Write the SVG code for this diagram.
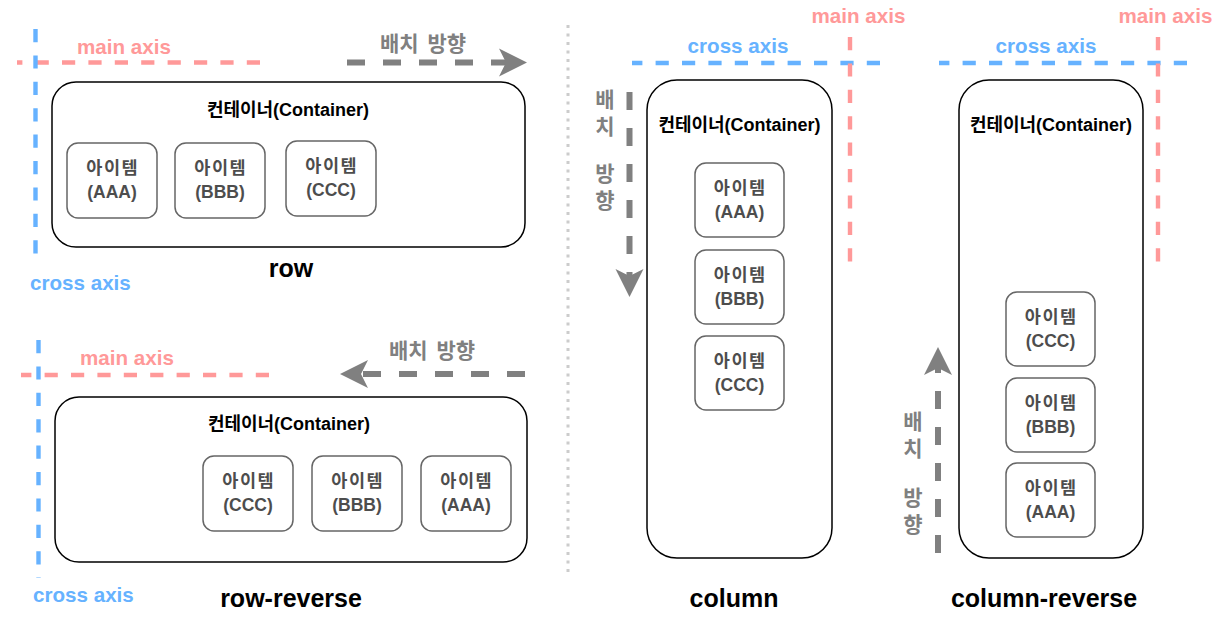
<svg xmlns="http://www.w3.org/2000/svg" width="1219" height="624" viewBox="0 0 1219 624">
<style>
text{font-family:"Liberation Sans","Noto Sans CJK KR",Arial,sans-serif;font-weight:bold}
.ax{font-size:20.6px}
.main{fill:#FF9999}
.cross{fill:#66B2FF}
.dir{fill:#808080;font-size:21px}
.title{font-size:25px;fill:#000;text-anchor:middle}
.clabel{font-size:18px;fill:#000;text-anchor:middle}
.ilabel{font-size:17.5px;fill:#4D4D4D;text-anchor:middle}
.ko{letter-spacing:1.5px}
.cont{fill:#fff;stroke:#000;stroke-width:1.5}
.item{fill:#fff;stroke:#666;stroke-width:1.5}
.pink{stroke:#FF9999;stroke-width:4.4;stroke-dasharray:13.2 13.2;fill:none}
.blue{stroke:#66B2FF;stroke-width:4.4;stroke-dasharray:13.2 13.2;fill:none}
.flow{stroke:#808080;stroke-width:6;stroke-dasharray:18 18;fill:none;marker-end:url(#head)}
.sep{stroke:#CCCCCC;stroke-width:3;stroke-dasharray:3 5.5;fill:none}
</style>
<defs>
<marker id="head" markerUnits="userSpaceOnUse" markerWidth="30" markerHeight="30" refX="7" refY="14" orient="auto" overflow="visible">
<path d="M0,0 L28,14 L0,28 L7,14 Z" fill="#808080"/>
</marker>
</defs>

<!-- separator -->
<line class="sep" x1="568" y1="25" x2="568" y2="576"/>

<!-- axes -->
<g id="axes">
<line class="pink" x1="260" y1="62.5" x2="17" y2="62.5"/>
<line class="blue" x1="35.5" y1="29" x2="35.5" y2="258"/>
<line class="pink" x1="269" y1="375" x2="21" y2="375"/>
<line class="blue" x1="38.5" y1="340" x2="38.5" y2="578"/>
<line class="blue" x1="880" y1="63" x2="632" y2="63"/>
<line class="pink" x1="850" y1="37" x2="850" y2="265"/>
<line class="blue" x1="1187" y1="63" x2="939" y2="63"/>
<line class="pink" x1="1158" y1="37" x2="1158" y2="265"/>
</g>

<!-- axis labels -->
<g id="axis-labels">
<text class="ax main" x="77" y="54">main axis</text>
<text class="ax cross" x="30" y="290">cross axis</text>
<text class="ax main" x="80" y="365">main axis</text>
<text class="ax cross" x="33" y="602">cross axis</text>
<text class="ax cross" x="738" y="53" text-anchor="middle">cross axis</text>
<text class="ax main" x="858.5" y="23" text-anchor="middle">main axis</text>
<text class="ax cross" x="1046" y="53" text-anchor="middle">cross axis</text>
<text class="ax main" x="1165.5" y="23" text-anchor="middle">main axis</text>
</g>

<!-- connectors (direction arrows) -->
<g id="connectors">
<line class="flow" x1="347" y1="62.5" x2="506" y2="62.5"/>
<line class="flow" x1="525" y1="374" x2="361" y2="374"/>
<line class="flow" x1="629.5" y1="92" x2="629.5" y2="276"/>
<line class="flow" x1="938" y1="553" x2="938" y2="368"/>
</g>

<g id="direction-labels">
<text class="dir" x="423" y="51" text-anchor="middle" word-spacing="3">배치 방향</text>
<text class="dir" x="432" y="358" text-anchor="middle" word-spacing="3">배치 방향</text>
<text class="dir" x="605" y="107" text-anchor="middle">배</text>
<text class="dir" x="605" y="134" text-anchor="middle">치</text>
<text class="dir" x="605" y="181" text-anchor="middle">방</text>
<text class="dir" x="605" y="208" text-anchor="middle">향</text>
<text class="dir" x="913" y="429" text-anchor="middle">배</text>
<text class="dir" x="913" y="456" text-anchor="middle">치</text>
<text class="dir" x="913" y="505" text-anchor="middle">방</text>
<text class="dir" x="913" y="532" text-anchor="middle">향</text>
</g>

<!-- row -->
<g id="row-container">
<rect class="cont" x="52" y="82" width="473" height="165" rx="24"/>
<text class="clabel" x="288" y="116">컨테이너(Container)</text>
</g>
<g id="row-item-aaa">
<rect class="item" x="67" y="143" width="90" height="75" rx="11"/>
<text class="ilabel ko" x="112.75" y="174">아이템</text>
<text class="ilabel" x="112" y="198">(AAA)</text>
</g>
<g id="row-item-bbb">
<rect class="item" x="175" y="143" width="90" height="75" rx="11"/>
<text class="ilabel ko" x="220.75" y="174">아이템</text>
<text class="ilabel" x="220" y="198">(BBB)</text>
</g>
<g id="row-item-ccc">
<rect class="item" x="286" y="141" width="90" height="75" rx="11"/>
<text class="ilabel ko" x="331.75" y="172">아이템</text>
<text class="ilabel" x="331" y="196">(CCC)</text>
</g>
<text class="title" x="291" y="277">row</text>

<!-- row-reverse -->
<g id="row-reverse-container">
<rect class="cont" x="55" y="397" width="472" height="165" rx="24"/>
<text class="clabel" x="289" y="430">컨테이너(Container)</text>
</g>
<g id="rr-item-ccc">
<rect class="item" x="203" y="456" width="90" height="75" rx="11"/>
<text class="ilabel ko" x="248.75" y="487">아이템</text>
<text class="ilabel" x="248" y="511">(CCC)</text>
</g>
<g id="rr-item-bbb">
<rect class="item" x="312" y="456" width="90" height="75" rx="11"/>
<text class="ilabel ko" x="357.75" y="487">아이템</text>
<text class="ilabel" x="357" y="511">(BBB)</text>
</g>
<g id="rr-item-aaa">
<rect class="item" x="421" y="456" width="90" height="75" rx="11"/>
<text class="ilabel ko" x="466.75" y="487">아이템</text>
<text class="ilabel" x="466" y="511">(AAA)</text>
</g>
<text class="title" x="291" y="607">row-reverse</text>

<!-- column -->
<g id="column-container">
<rect class="cont" x="647" y="80" width="185" height="478" rx="30"/>
<text class="clabel" x="739.5" y="131">컨테이너(Container)</text>
</g>
<g id="col-item-aaa">
<rect class="item" x="695" y="163" width="89" height="74" rx="11"/>
<text class="ilabel ko" x="740.25" y="193.5">아이템</text>
<text class="ilabel" x="739.5" y="217.5">(AAA)</text>
</g>
<g id="col-item-bbb">
<rect class="item" x="695" y="250" width="89" height="74" rx="11"/>
<text class="ilabel ko" x="740.25" y="280.5">아이템</text>
<text class="ilabel" x="739.5" y="304.5">(BBB)</text>
</g>
<g id="col-item-ccc">
<rect class="item" x="695" y="336" width="89" height="74" rx="11"/>
<text class="ilabel ko" x="740.25" y="366.5">아이템</text>
<text class="ilabel" x="739.5" y="390.5">(CCC)</text>
</g>
<text class="title" x="734" y="607">column</text>

<!-- column-reverse -->
<g id="column-reverse-container">
<rect class="cont" x="959" y="80" width="184" height="478" rx="30"/>
<text class="clabel" x="1051" y="131">컨테이너(Container)</text>
</g>
<g id="cr-item-ccc">
<rect class="item" x="1006" y="292" width="89" height="74" rx="11"/>
<text class="ilabel ko" x="1051.25" y="322.5">아이템</text>
<text class="ilabel" x="1050.5" y="346.5">(CCC)</text>
</g>
<g id="cr-item-bbb">
<rect class="item" x="1006" y="378" width="89" height="74" rx="11"/>
<text class="ilabel ko" x="1051.25" y="408.5">아이템</text>
<text class="ilabel" x="1050.5" y="432.5">(BBB)</text>
</g>
<g id="cr-item-aaa">
<rect class="item" x="1006" y="463" width="89" height="74" rx="11"/>
<text class="ilabel ko" x="1051.25" y="493.5">아이템</text>
<text class="ilabel" x="1050.5" y="517.5">(AAA)</text>
</g>
<text class="title" x="1044" y="607">column-reverse</text>
</svg>
